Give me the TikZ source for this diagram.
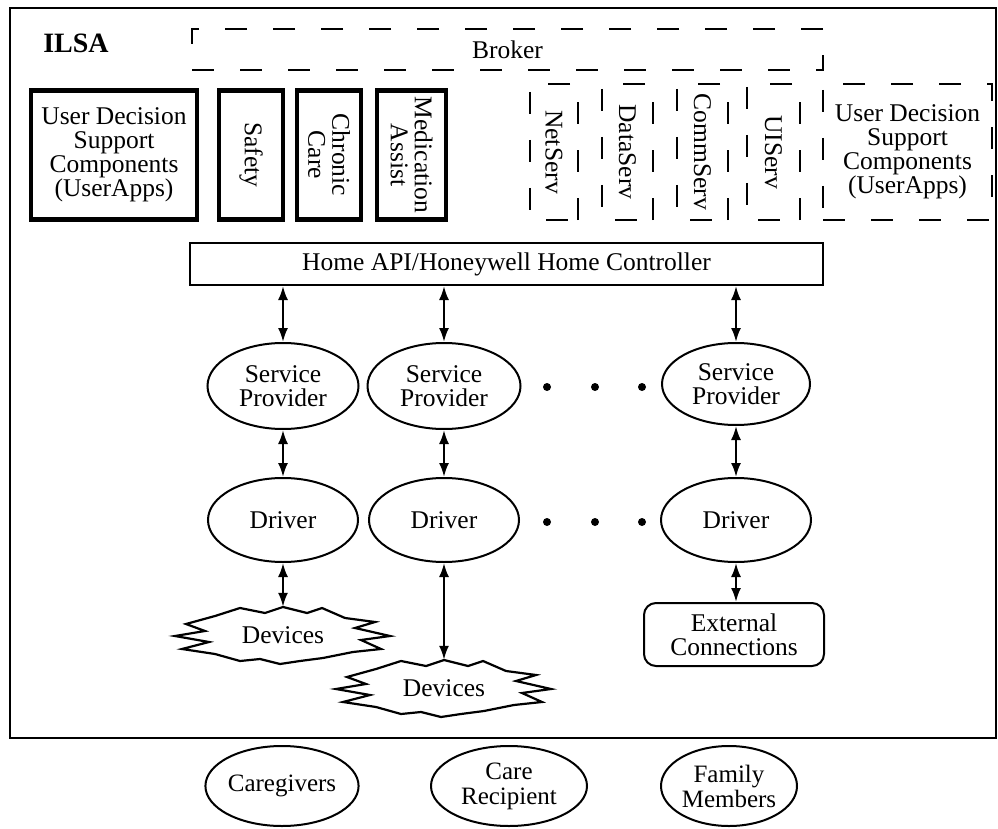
\documentclass[tikz,border=0pt]{standalone}
\usepackage{fontspec}
\setmainfont{Liberation Serif}
\usetikzlibrary{shapes.geometric,arrows.meta}
\begin{document}
\begin{tikzpicture}[x=1pt,y=-1pt,
  every node/.style={font=\fontsize{25.5}{24}\selectfont, align=center, inner sep=0pt},
  thickbox/.style={draw, line width=4.5pt, rectangle},
  thinbox/.style={draw, line width=2pt, rectangle},
  dbox/.style={draw, line width=2pt, dash pattern=on 22pt off 26pt},
  oval/.style={draw, ellipse, line width=2pt},
  ba/.style={{Latex[length=14pt,width=10pt]}-{Latex[length=14pt,width=10pt]}, line width=2.2pt},
  dot/.style={circle, fill, minimum size=8pt},
  devtext/.style={minimum width=216pt, minimum height=56pt},
  burst/.style={line width=2.2pt, line join=miter}
]
\useasboundingbox (0,0) rectangle (998,829);

% outer frame
\node[draw, line width=2.2pt, minimum width=986pt, minimum height=730pt] (frame) at (503,373) {};
\node[font=\fontsize{28}{28}\selectfont\bfseries] (ilsa) at (76,43) {ILSA};

% broker
\node[dbox, minimum width=631pt, minimum height=41pt] (broker) at (507.5,49.5) {Broker};

% solid component boxes
\node[thickbox, minimum width=166pt, minimum height=129pt] (uapps) at (114,155)
  {User Decision\\Support\\Components\\(UserApps)};
\node[thickbox, rotate=-90, minimum width=129pt, minimum height=64pt] (safety) at (251,155) {Safety};
\node[thickbox, rotate=-90, minimum width=129pt, minimum height=64pt] (chronic) at (329,155) {Chronic\\Care};
\node[thickbox, rotate=-90, minimum width=129pt, minimum height=69pt] (medic) at (411.5,155) {Medication\\Assist};

% dashed service boxes
\node[dbox, rotate=-90, minimum width=136pt, minimum height=48pt] (netserv) at (554,152) {NetServ};
\node[dbox, rotate=-90, minimum width=136pt, minimum height=51pt] (dataserv) at (627.5,152) {DataServ};
\node[dbox, rotate=-90, minimum width=136pt, minimum height=51pt] (commserv) at (702.5,152) {CommServ};
\node[dbox, rotate=-90, minimum width=136pt, minimum height=53pt] (uiserv) at (773.5,152) {UIServ};
\node[dbox, minimum width=169pt, minimum height=136pt] (uappsd) at (907.5,152)
  {User Decision\\Support\\Components\\(UserApps)};

% home api
\node[thinbox, minimum width=633pt, minimum height=42pt] (api) at (506.5,264)
  {Home API/Honeywell Home Controller};

% service providers
\node[oval, minimum width=151pt, minimum height=86pt] (sp1) at (283,386) {Service\\Provider};
\node[oval, minimum width=153pt, minimum height=86pt] (sp2) at (444,386) {Service\\Provider};
\node[oval, minimum width=148pt, minimum height=82pt] (sp3) at (736,384) {Service\\Provider};

% drivers
\node[oval, minimum width=150pt, minimum height=84pt] (drv1) at (283,520) {Driver};
\node[oval, minimum width=150pt, minimum height=84pt] (drv2) at (444,520) {Driver};
\node[oval, minimum width=150pt, minimum height=84pt] (drv3) at (736,520) {Driver};

% dots
\node[dot] (da1) at (547,387) {};
\node[dot] (da2) at (595,387) {};
\node[dot] (da3) at (642,387) {};
\node[dot] (db1) at (547,522) {};
\node[dot] (db2) at (595,522) {};
\node[dot] (db3) at (642,522) {};

% devices
\node[devtext] (dev1) at (283,635) {Devices};
\node[devtext] (dev2) at (444,688) {Devices};
\foreach \d in {dev1,dev2}{
  \begin{scope}[shift={(\d.center)}]
    \draw[burst] (-68,-19) -- (-43,-27) -- (-18,-22) -- (0,-28) -- (24,-22) -- (39,-27)
      -- (62,-17) -- (92,-13) -- (72,-7) -- (107,1) -- (78,5) -- (98,14) -- (70,17)
      -- (40,23) -- (17,26) -- (-3,29) -- (-23,24) -- (-43,26) -- (-68,19)
      -- (-101,14) -- (-74,7) -- (-108,1) -- (-78,-4) -- (-97,-11) -- cycle;
  \end{scope}
}

% external connections
\node[draw, rounded corners=12pt, line width=2pt, minimum width=180pt, minimum height=63pt]
  (ext) at (734,634.5) {External\\Connections};

% connectors
\draw[ba] (api.south -| sp1.north) -- (sp1.north);
\draw[ba] (api.south -| sp2.north) -- (sp2.north);
\draw[ba] (api.south -| sp3.north) -- (sp3.north);
\draw[ba] (sp1.south) -- (drv1.north);
\draw[ba] (sp2.south) -- (drv2.north);
\draw[ba] (sp3.south) -- (drv3.north);
\draw[ba] (drv1.south) -- (dev1.north);
\draw[ba] (drv2.south) -- (dev2.north);
\draw[ba] (drv3.south) -- (ext.north -| drv3.south);

% people
\node[oval, minimum width=150pt, minimum height=80pt, font=\fontsize{25}{25}\selectfont] (care) at (282,786) {Caregivers};
\node[oval, minimum width=156pt, minimum height=80pt, font=\fontsize{25}{25}\selectfont] (recip) at (509,786) {Care\\Recipient};
\node[oval, minimum width=136pt, minimum height=80pt, font=\fontsize{25}{25}\selectfont] (family) at (729,786) {Family\\Members};
\end{tikzpicture}
\end{document}
